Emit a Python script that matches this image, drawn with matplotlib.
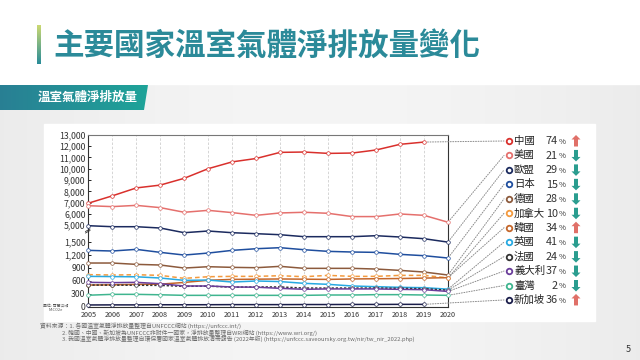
import numpy as np
import matplotlib
matplotlib.use("Agg")
import matplotlib.pyplot as plt
from matplotlib.patches import Rectangle, Polygon, ConnectionPatch

plt.rcParams['font.family'] = ['Noto Sans CJK TC', 'DejaVu Sans']

# ---------------- data ----------------
years = list(range(2005, 2021))

countries = ['中國', '美國', '歐盟', '日本', '德國', '加拿大', '韓國', '英國', '法國', '義大利', '臺灣', '新加坡']

china = [6950, 7600, 8300, 8550, 9150, 10000, 10600, 10900, 11440, 11470, 11350, 11380, 11650, 12150, 12350]
usa = [6730, 6650, 6760, 6560, 6150, 6320, 6120, 5880, 6090, 6150, 6060, 5770, 5770, 6000, 5880, 5270]
eu = [4915, 4700, 4700, 4420, 3420, 3780, 3420, 3210, 2990, 2570, 2570, 2570, 2780, 2500, 2140, 1490]
japan = [1300, 1285, 1323, 1254, 1192, 1238, 1300, 1338, 1362, 1315, 1277, 1262, 1254, 1208, 1177, 1123]
germany = [1008, 1008, 977, 962, 892, 923, 908, 900, 931, 885, 885, 885, 869, 838, 800, 731]
canada = [740, 731, 738, 723, 654, 692, 700, 700, 715, 692, 723, 700, 700, 723, 723, 665]
korea = [500, 505, 515, 520, 560, 610, 630, 635, 640, 635, 630, 640, 645, 650, 660, 670]
uk = [700, 695, 690, 662, 608, 615, 569, 593, 580, 539, 516, 478, 462, 447, 439, 405]
france = [500, 498, 495, 492, 470, 475, 450, 455, 455, 430, 430, 430, 430, 424, 415, 380]
italy = [562, 555, 562, 531, 478, 478, 455, 450, 424, 401, 410, 410, 410, 400, 393, 352]
taiwan = [265, 285, 285, 275, 262, 262, 262, 262, 262, 262, 270, 270, 278, 278, 270, 262]
singapore = [40, 42, 42, 45, 45, 46, 48, 48, 48, 50, 50, 52, 52, 54, 54]

series = [china, usa, eu, japan, germany, canada, korea, uk, france, italy, taiwan, singapore]
pct_labels = ['74', '21', '29', '15', '28', '10', '34', '41', '24', '37', '2', '36']
directions = ['up', 'down', 'down', 'down', 'down', 'down', 'up', 'down', 'down', 'down', 'down', 'up']

yticks = [0, 300, 600, 900, 1200, 1500, 5000, 6000, 7000, 8000, 9000, 10000, 11000, 12000, 13000]

title = '主要國家溫室氣體淨排放量變化'
subtitle = '溫室氣體淨排放量'
unit_label = '單位: 百萬公噸\nMtCO2e'
source_lines = [
    '資料來源：1. 各國溫室氣體淨排放量整理自UNFCCC網站 (https://unfccc.int/)',
    '2. 韓國、中國、新加坡為UNFCCC非附件一國家，淨排放量整理自WRI網站 (https://www.wri.org/)',
    '3. 我國溫室氣體淨排放量整理自環保署國家溫室氣體排放清冊報告 (2022年版) (https://unfccc.saveoursky.org.tw/nir/tw_nir_2022.php)',
]
page_no = '5'

# ---------------- styles ----------------
colors = ['#d9302c', '#e5706d', '#1b2a5e', '#1f4e9e', '#8c5a3c', '#f39a3e',
          '#c4662a', '#27a9e1', '#333333', '#6a3d9a', '#3fb58f', '#1a1d4a']
styles = ['-', '-', '-', '-', '-', (0, (3, 2)), '-', '-', (0, (1.5, 1.2)), '-', '-', '-']

W, H = 640, 360
fig = plt.figure(figsize=(6.4, 3.6), dpi=100)

# background axes in pixel coordinates
bg = fig.add_axes([0, 0, 1, 1], zorder=0)
bg.set_xlim(0, W)
bg.set_ylim(H, 0)
bg.axis('off')

grad = np.linspace(0, 1, 256)[None, :]
gray = np.ones((1, 256, 3))
base = 0.925 + 0.035 * np.sin(grad * np.pi)
gray[..., 0] = base; gray[..., 1] = base; gray[..., 2] = base
bg.imshow(gray, extent=[0, W, H, 84], aspect='auto', zorder=0)
bg.add_patch(Rectangle((0, 0), W, 84, color='white', zorder=1))

# title accent bar
bar = np.zeros((64, 1, 3))
t = np.linspace(0, 1, 64)
c1 = np.array([0.80, 0.85, 0.45]); c2 = np.array([0.16, 0.55, 0.60])
bar[:, 0, :] = c1[None, :] * (1 - t[:, None]) + c2[None, :] * t[:, None]
bg.imshow(bar, extent=[37, 40.5, 64, 25], aspect='auto', zorder=2)
bg.text(53, 46, title, fontsize=22, fontweight='bold', color='#2b8a99',
        ha='left', va='center', zorder=3)

# subtitle band
band = np.zeros((1, 64, 3))
s = np.linspace(0, 1, 64)
b1 = np.array([0.16, 0.50, 0.58]); b2 = np.array([0.12, 0.64, 0.60])
band[0, :, :] = b1[None, :] * (1 - s[:, None]) + b2[None, :] * s[:, None]
im = bg.imshow(band, extent=[0, 148, 110, 85], aspect='auto', zorder=2)
im.set_clip_path(Polygon([[0, 85], [148, 85], [144, 110], [0, 110]], closed=True,
                         transform=bg.transData))
bg.text(38, 97.5, subtitle, fontsize=9, fontweight='bold', color='white',
        ha='left', va='center', zorder=3)

# white chart panel
bg.add_patch(Rectangle((44, 124), 551, 197, color='white', zorder=2))

# source text
bg.text(40, 326, source_lines[0], fontsize=4.2, color='#6a6a6a', ha='left', va='center', zorder=3)
bg.text(62, 332.5, source_lines[1], fontsize=4.2, color='#6a6a6a', ha='left', va='center', zorder=3)
bg.text(62, 339, source_lines[2], fontsize=4.2, color='#6a6a6a', ha='left', va='center', zorder=3)
bg.text(628, 349, page_no, fontsize=6.5, color='#333333', ha='center', va='center', zorder=3)
bg.text(56, 308, unit_label, fontsize=2.8, color='#555555', ha='center', va='center',
        linespacing=1.1, zorder=3)

# ---------------- chart ----------------
x0, x1, ytop, ybot = 88.3, 448.0, 134.7, 306.7
ax = fig.add_axes([x0 / W, 1 - ybot / H, (x1 - x0) / W, (ybot - ytop) / H], zorder=2)
ax.set_facecolor('none')

vk = [0, 1500, 5000, 13000]
pk = [0, 65, 81.4, 172]
def fwd(v):
    return np.interp(v, vk, pk)
def inv(p):
    return np.interp(p, pk, vk)
ax.set_yscale('function', functions=(fwd, inv))

for vals, col, ls in zip(series, colors, styles):
    xs = years[:len(vals)]
    ax.plot(xs, vals, color=col, lw=1.1, ls=ls, marker='o', ms=2.6,
            mfc='white', mec=col, mew=0.5, zorder=3, clip_on=False)

ax.set_xlim(2005, 2020)
ax.set_ylim(0, 13000)
ax.set_xticks(years)
ax.set_xticklabels([str(y) for y in years], fontsize=5.2, color='#333333')
ax.set_yticks(yticks)
ax.set_yticklabels([f'{v:,}' for v in yticks], fontsize=6.3, color='#333333')
ax.tick_params(axis='x', length=0, pad=3)
ax.tick_params(axis='y', length=2, width=0.6, direction='in', pad=2)
ax.grid(axis='x', color='#cfcfcf', lw=0.6, ls=(0, (3, 2)))
for sp in ax.spines.values():
    sp.set_color('#333333'); sp.set_linewidth(0.8)
ax.spines['top'].set_color('#777777')

# axis break mark
bg.add_patch(Rectangle((85, 228.5), 6, 4.5, color='white', zorder=5))
bg.plot([85.5, 90], [231.5, 229], color='#333333', lw=0.6, zorder=6)
bg.plot([85.5, 90], [233, 230.5], color='#333333', lw=0.6, zorder=6)

# ---------------- legend with leader lines ----------------
leg_y0, leg_dy = 141.0, 14.45
for i, (name, vals, col) in enumerate(zip(countries, series, colors)):
    yy = leg_y0 + i * leg_dy
    bg.plot([509], [yy], marker='o', ms=4.0, mfc='white', mec=col, mew=1.3, zorder=5)
    bg.text(514, yy, name, fontsize=7.5, color='#222222', ha='left', va='center', zorder=5)
    bg.text(558, yy + 0.3, pct_labels[i], fontsize=7.8, color='#333333', ha='right', va='center', zorder=5)
    bg.text(558.3, yy + 0.8, '%', fontsize=5.6, color='#333333', ha='left', va='center', zorder=5)
    ax_ = 576
    if directions[i] == 'up':
        poly = [[ax_, yy - 6], [ax_ + 4.5, yy - 1.5], [ax_ + 2, yy - 1.5], [ax_ + 2, yy + 5.5],
                [ax_ - 2, yy + 5.5], [ax_ - 2, yy - 1.5], [ax_ - 4.5, yy - 1.5]]
        fc = '#e07068'
    else:
        poly = [[ax_, yy + 6], [ax_ + 4.5, yy + 1.5], [ax_ + 2, yy + 1.5], [ax_ + 2, yy - 5.5],
                [ax_ - 2, yy - 5.5], [ax_ - 2, yy + 1.5], [ax_ - 4.5, yy + 1.5]]
        fc = '#2a9d8f'
    bg.add_patch(Polygon(poly, closed=True, fc=fc, ec='none', zorder=5))

    xe = years[len(vals) - 1]
    cp = ConnectionPatch(xyA=(xe, vals[-1]), coordsA=ax.transData,
                         xyB=(504, yy), coordsB=bg.transData,
                         color='#8a8a8a', lw=0.7, ls=(0, (1, 1.6)),
                         shrinkA=2.5, shrinkB=0, zorder=4)
    fig.add_artist(cp)

fig.savefig('out.png', dpi=100)
